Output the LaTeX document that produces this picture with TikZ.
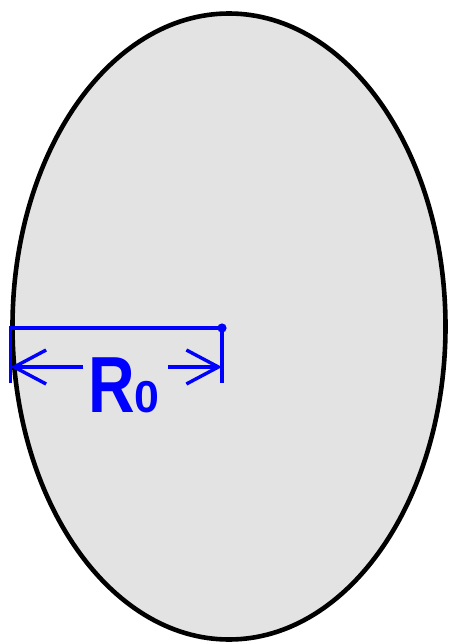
\documentclass[tikz,border=0pt]{standalone}
\usepackage{fontspec}
\newfontfamily\labfont{Liberation Sans}
\usetikzlibrary{shapes.geometric,arrows.meta}
\definecolor{eggfill}{HTML}{E3E3E3}
\definecolor{dimblue}{RGB}{0,0,255}
\tikzset{
  egg/.style={ellipse, draw=black, fill=eggfill, line width=4.6pt, inner sep=0pt},
  dimline/.style={draw=dimblue, line width=3.4pt},
  dimarrow/.style={dimline, -{Straight Barb[length=32pt,width=34pt,line width=3.4pt]}},
  dimlabel/.style={text=dimblue, inner sep=0pt, font=\labfont\bfseries}
}
\begin{document}
\begin{tikzpicture}[x=1pt,y=-1pt]
\useasboundingbox[fill=white] (0,0) rectangle (450,644);
\node[egg, minimum width=433pt, minimum height=626pt] (e) at (229,326.5) {};
\coordinate (L) at (10.5,328);
\coordinate (C) at (222,328);
\coordinate (Lb) at (10.5,383);
\coordinate (Cb) at (222,383);
\coordinate (al) at (10.5,367);
\coordinate (ar) at (222,367);
\node[dimlabel, anchor=base west] (lbl) at (88,412)
  {\fontsize{79.6}{80}\selectfont\scalebox{0.81}[1]{R}\fontsize{44.7}{45}\selectfont 0};
\draw[dimline] (Lb) -- (L) -- (C) -- (Cb);
\fill[dimblue] (C) circle (4.6pt);
\draw[dimarrow] ([xshift=-5pt]lbl.west |- al) -- (al);
\draw[dimarrow] ([xshift=8pt]lbl.east |- ar) -- (ar);
\end{tikzpicture}
\end{document}
